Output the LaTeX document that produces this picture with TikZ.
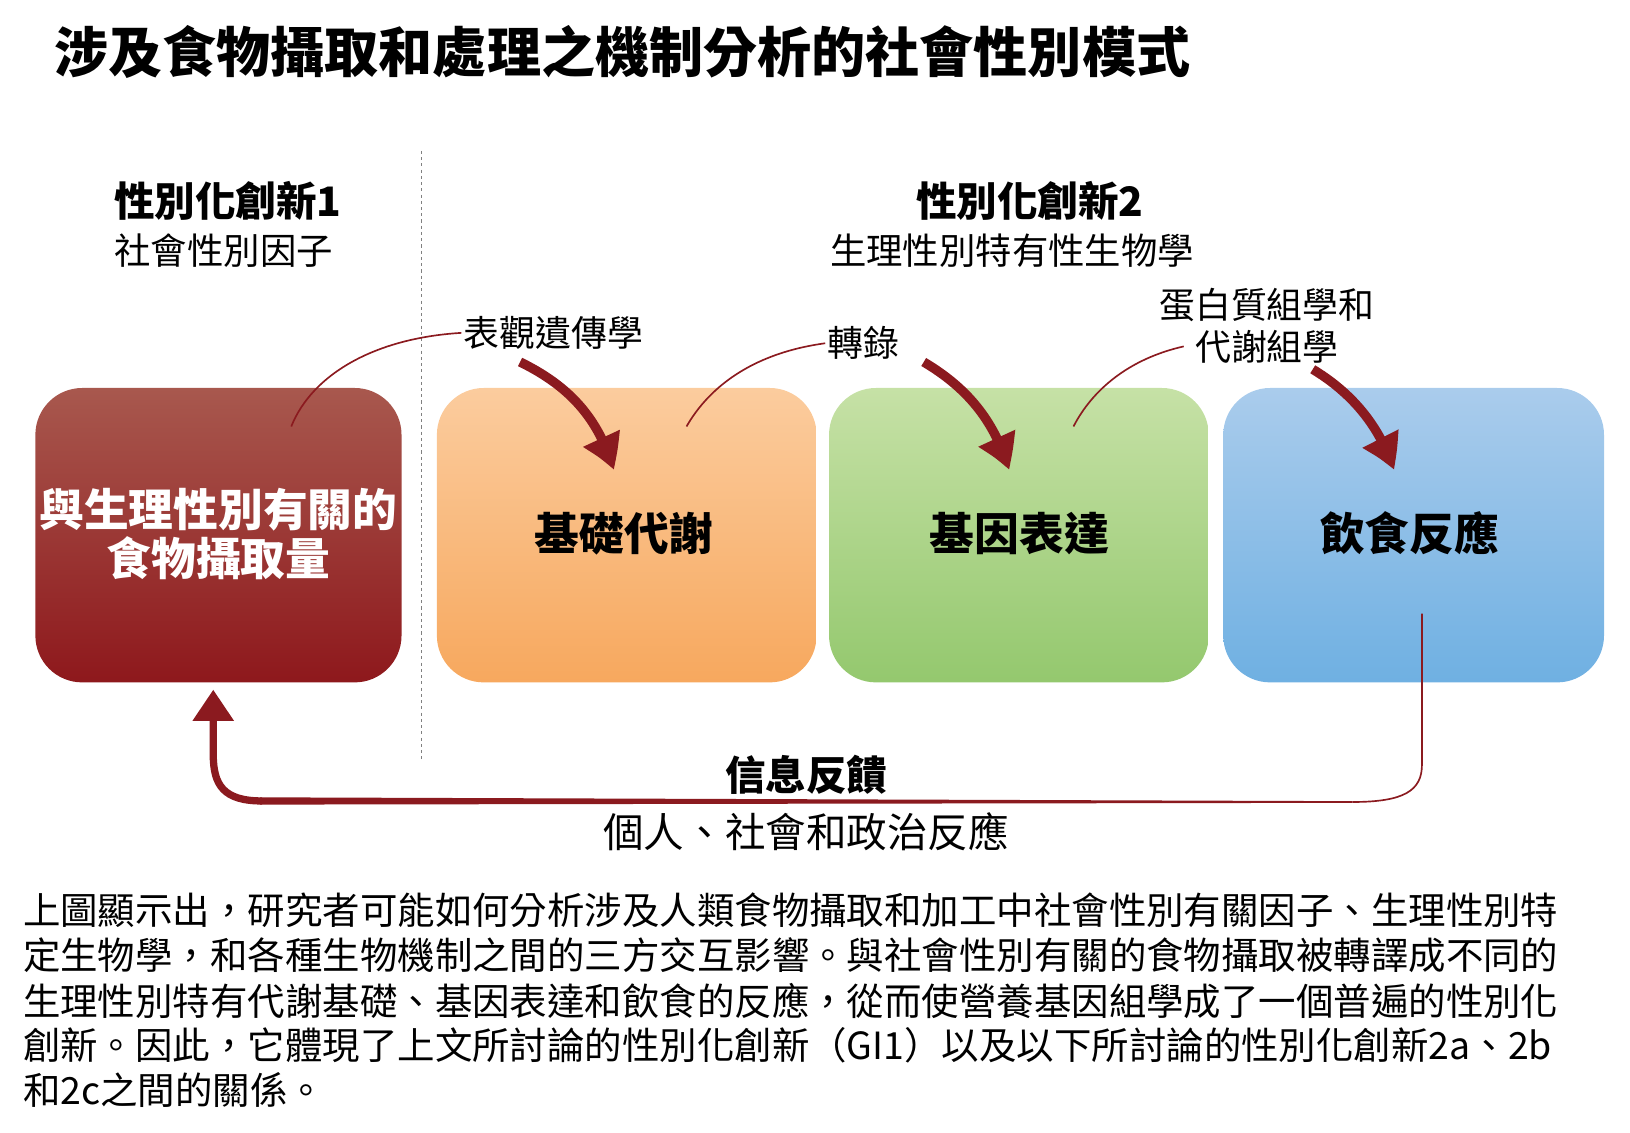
\documentclass[tikz,border=0pt]{standalone}
\usepackage{fontspec}
\setmainfont{Noto Sans CJK TC}
\usetikzlibrary{arrows.meta,bending}
\definecolor{dred}{HTML}{8B1A1F}
\tikzset{
 fs/.style={font=\fontsize{#1}{#1}\selectfont},
 fb/.style={font=\bfseries\fontsize{#1}{#1}\selectfont},
 big/.style={-{Triangle[length=34pt,width=36pt,bend]},line width=9pt,dred},
 thin/.style={line width=1.6pt,dred},
 para/.style={anchor=west,font=\fontsize{36}{36}\selectfont,inner sep=0pt}
}
\begin{document}
\begin{tikzpicture}[x=1pt,y=-1pt]
\useasboundingbox (0,0) rectangle (1567,1089);
\node[anchor=west,fb=52,inner sep=0pt] (title) at (52,50) {涉及食物攝取和處理之機制分析的社會性別模式};
\draw[gray,line width=1.2pt,dash pattern=on 3pt off 3pt] (405,145) -- (405,730);
\node[fb=39] (h1) at (219,193) {性別化創新1};
\node[fs=35] (s1) at (215,241) {社會性別因子};
\node[fb=39] (h2) at (990,193) {性別化創新2};
\node[fs=35] (s2) at (973,241) {生理性別特有性生物學};
\shade[top color={rgb,255:red,168;green,88;blue,78},bottom color={rgb,255:red,142;green,24;blue,28},rounded corners=45pt] (34,373) rectangle (386,656);
\shade[top color={rgb,255:red,251;green,204;blue,158},bottom color={rgb,255:red,247;green,168;blue,94},rounded corners=45pt] (420,373) rectangle (785,656);
\shade[top color={rgb,255:red,198;green,225;blue,166},bottom color={rgb,255:red,148;green,200;blue,110},rounded corners=45pt] (797,373) rectangle (1162,656);
\shade[top color={rgb,255:red,170;green,204;blue,236},bottom color={rgb,255:red,111;green,176;blue,226},rounded corners=45pt] (1176,373) rectangle (1542,656);
\node[white,align=center,font=\bfseries\fontsize{43}{47}\selectfont] (b1) at (210,513) {與生理性別有關的\\食物攝取量};
\node[fb=43] (b2) at (600,513) {基礎代謝};
\node[fb=43] (b3) at (980,513) {基因表達};
\node[fb=43] (b4) at (1355,513) {飲食反應};
\node[fs=34.5,inner sep=2pt] (l1) at (532,320) {表觀遺傳學};
\node[fs=34.5,inner sep=2pt] (l2) at (830,330) {轉錄};
\node[align=center,inner sep=2pt,font=\fontsize{34.5}{40}\selectfont] (l3) at (1218,313) {蛋白質組學和\\代謝組學};
\coordinate (t1) at (280,410); \coordinate (t2) at (660,410); \coordinate (t3) at (1032,410);
\draw[thin] (l1.west) .. controls (360,325) and (300,360) .. (t1);
\draw[thin] (l2.west) .. controls (720,340) and (680,375) .. (t2);
\draw[thin] (1138,333) .. controls (1085,345) and (1050,375) .. (t3);
\coordinate (a1) at (590,452); \coordinate (a2) at (970,452); \coordinate (a3) at (1340,452);
\draw[big] (500,348) .. controls (545,370) and (575,400) .. (a1);
\draw[big] (888,348) .. controls (925,370) and (955,400) .. (a2);
\draw[big] (1262,355) .. controls (1295,375) and (1325,405) .. (a3);
\coordinate (f0) at (1367,590); \coordinate (f2) at (205,663);
\draw[dred,line width=1.6pt] (f0) -- (1367,735) .. controls (1367,760) and (1350,771) .. (1300,771);
\fill[dred] (1300,770.2) -- (250,766.5) -- (250,773.5) -- (1300,771.8) -- cycle;
\draw[dred,line width=7pt,-{Triangle[length=30pt,width=38pt]}] (252,770) .. controls (215,770) and (205,755) .. (205,725) -- (f2);
\node[fb=39] (fbk) at (775,745) {信息反饋};
\node[fs=39] (fb2) at (775,800) {個人、社會和政治反應};
\node[para] (p1) at (22,875) {上圖顯示出，研究者可能如何分析涉及人類食物攝取和加工中社會性別有關因子、生理性別特};
\node[para] (p2) at (22,918) {定生物學，和各種生物機制之間的三方交互影響。與社會性別有關的食物攝取被轉譯成不同的};
\node[para] (p3) at (22,962) {生理性別特有代謝基礎、基因表達和飲食的反應，從而使營養基因組學成了一個普遍的性別化};
\node[para] (p4) at (22,1005) {創新。因此，它體現了上文所討論的性別化創新（GI1）以及以下所討論的性別化創新2a、2b};
\node[para] (p5) at (22,1048) {和2c之間的關係。};
\end{tikzpicture}
\end{document}
